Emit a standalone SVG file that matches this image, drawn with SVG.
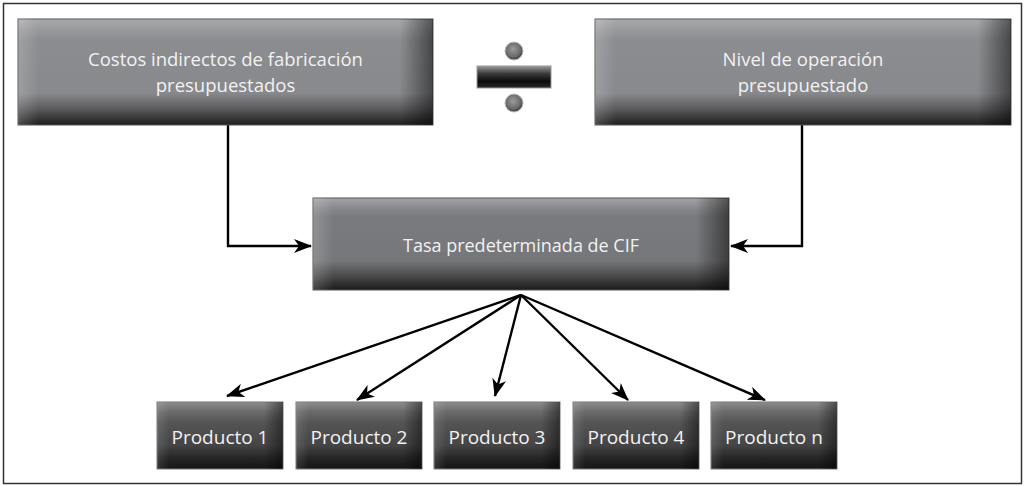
<svg xmlns="http://www.w3.org/2000/svg" width="1025" height="486" viewBox="0 0 1025 486">
<style>
.lbl{font-family:"Open Sans","Liberation Sans",sans-serif;fill:#f2f2f2;text-anchor:middle}
.big{font-size:18.5px}
.mid{font-size:18px}
.prd{font-size:19px}
.conn{fill:none;stroke:#000;stroke-width:2.4}
</style>
<defs>
<linearGradient id="gTop" x1="0" y1="0" x2="0" y2="1">
<stop offset="0" stop-color="#a9aaac"/>
<stop offset="0.12" stop-color="#96979a"/>
<stop offset="0.2" stop-color="#8c8d90"/>
<stop offset="0.7" stop-color="#88898c"/>
<stop offset="0.85" stop-color="#5a5a5c"/>
<stop offset="1" stop-color="#1e1e1e"/>
</linearGradient>
<linearGradient id="gMid" x1="0" y1="0" x2="0" y2="1">
<stop offset="0" stop-color="#a2a3a5"/>
<stop offset="0.12" stop-color="#86878a"/>
<stop offset="0.2" stop-color="#7a7b7e"/>
<stop offset="0.68" stop-color="#76777a"/>
<stop offset="0.85" stop-color="#4a4a4c"/>
<stop offset="1" stop-color="#1a1a1a"/>
</linearGradient>
<linearGradient id="gProd" x1="0" y1="0" x2="0" y2="1">
<stop offset="0" stop-color="#8c8c8c"/>
<stop offset="0.15" stop-color="#6a6a6a"/>
<stop offset="0.3" stop-color="#555556"/>
<stop offset="0.65" stop-color="#444445"/>
<stop offset="0.85" stop-color="#242424"/>
<stop offset="1" stop-color="#151515"/>
</linearGradient>
<linearGradient id="gSide" x1="0" y1="0" x2="1" y2="0">
<stop offset="0" stop-color="#ffffff" stop-opacity="0.18"/>
<stop offset="0.05" stop-color="#ffffff" stop-opacity="0"/>
<stop offset="0.92" stop-color="#000000" stop-opacity="0"/>
<stop offset="1" stop-color="#000000" stop-opacity="0.5"/>
</linearGradient>
<linearGradient id="gSideP" x1="0" y1="0" x2="1" y2="0">
<stop offset="0" stop-color="#ffffff" stop-opacity="0.12"/>
<stop offset="0.1" stop-color="#ffffff" stop-opacity="0"/>
<stop offset="0.85" stop-color="#000000" stop-opacity="0"/>
<stop offset="1" stop-color="#000000" stop-opacity="0.45"/>
</linearGradient>
<linearGradient id="gBar" x1="0" y1="0" x2="0" y2="1">
<stop offset="0" stop-color="#9a9a9a"/>
<stop offset="0.35" stop-color="#3a3a3a"/>
<stop offset="0.7" stop-color="#0a0a0a"/>
<stop offset="1" stop-color="#2a2a2a"/>
</linearGradient>
<radialGradient id="gDot" cx="0.45" cy="0.4" r="0.6">
<stop offset="0" stop-color="#9a9a9a"/>
<stop offset="0.7" stop-color="#6a6a6a"/>
<stop offset="1" stop-color="#3a3a3a"/>
</radialGradient>
<marker id="arr" viewBox="0 0 18 14" refX="17" refY="7" markerWidth="18" markerHeight="14" markerUnits="userSpaceOnUse" orient="auto">
<path d="M0,0 L18,7 L0,14 L5,7 Z" fill="#000"/>
</marker>
</defs>
<rect x="0" y="0" width="1025" height="486" fill="#fff"/>
<rect x="3.5" y="3.5" width="1018" height="480" fill="none" stroke="#333" stroke-width="1.5"/>

<g id="connectors">
<polyline class="conn" points="228,125 228,246 311,246" marker-end="url(#arr)"/>
<polyline class="conn" points="802,125 802,246 731,246" marker-end="url(#arr)"/>
<line class="conn" x1="521" y1="295" x2="227" y2="396" marker-end="url(#arr)"/>
<line class="conn" x1="521" y1="295" x2="357" y2="400" marker-end="url(#arr)"/>
<line class="conn" x1="521" y1="295" x2="495" y2="396" marker-end="url(#arr)"/>
<line class="conn" x1="521" y1="295" x2="628" y2="400" marker-end="url(#arr)"/>
<line class="conn" x1="521" y1="295" x2="765" y2="400" marker-end="url(#arr)"/>
</g>

<g id="node-costos">
<rect x="18" y="19" width="415" height="106" fill="url(#gTop)" stroke="#555" stroke-width="1"/>
<rect x="18" y="19" width="415" height="106" fill="url(#gSide)"/>
<text class="lbl big" x="225.5" y="66">Costos indirectos de fabricación</text>
<text class="lbl big" x="225.5" y="92">presupuestados</text>
</g>

<g id="divide">
<circle cx="514" cy="51" r="9" fill="url(#gDot)" stroke="#bbb" stroke-width="1"/>
<rect x="477" y="66" width="74" height="22" fill="url(#gBar)" stroke="#999" stroke-width="1"/>
<circle cx="514" cy="103" r="9" fill="url(#gDot)" stroke="#bbb" stroke-width="1"/>
</g>

<g id="node-nivel">
<rect x="595" y="19" width="416" height="106" fill="url(#gTop)" stroke="#555" stroke-width="1"/>
<rect x="595" y="19" width="416" height="106" fill="url(#gSide)"/>
<text class="lbl big" x="803" y="66">Nivel de operación</text>
<text class="lbl big" x="803" y="92">presupuestado</text>
</g>

<g id="node-tasa">
<rect x="313" y="198" width="416" height="92" fill="url(#gMid)" stroke="#555" stroke-width="1"/>
<rect x="313" y="198" width="416" height="92" fill="url(#gSide)"/>
<text class="lbl mid" x="521" y="252">Tasa predeterminada de CIF</text>
</g>

<g id="node-p1">
<rect x="157" y="402" width="126" height="67" fill="url(#gProd)" stroke="#777" stroke-width="1"/>
<rect x="157" y="402" width="126" height="67" fill="url(#gSideP)"/>
<text class="lbl prd" x="220" y="444">Producto 1</text>
</g>
<g id="node-p2">
<rect x="296" y="402" width="126" height="67" fill="url(#gProd)" stroke="#777" stroke-width="1"/>
<rect x="296" y="402" width="126" height="67" fill="url(#gSideP)"/>
<text class="lbl prd" x="359" y="444">Producto 2</text>
</g>
<g id="node-p3">
<rect x="434" y="402" width="126" height="67" fill="url(#gProd)" stroke="#777" stroke-width="1"/>
<rect x="434" y="402" width="126" height="67" fill="url(#gSideP)"/>
<text class="lbl prd" x="497" y="444">Producto 3</text>
</g>
<g id="node-p4">
<rect x="573" y="402" width="126" height="67" fill="url(#gProd)" stroke="#777" stroke-width="1"/>
<rect x="573" y="402" width="126" height="67" fill="url(#gSideP)"/>
<text class="lbl prd" x="636" y="444">Producto 4</text>
</g>
<g id="node-pn">
<rect x="711" y="402" width="126" height="67" fill="url(#gProd)" stroke="#777" stroke-width="1"/>
<rect x="711" y="402" width="126" height="67" fill="url(#gSideP)"/>
<text class="lbl prd" x="774" y="444">Producto n</text>
</g>
</svg>
